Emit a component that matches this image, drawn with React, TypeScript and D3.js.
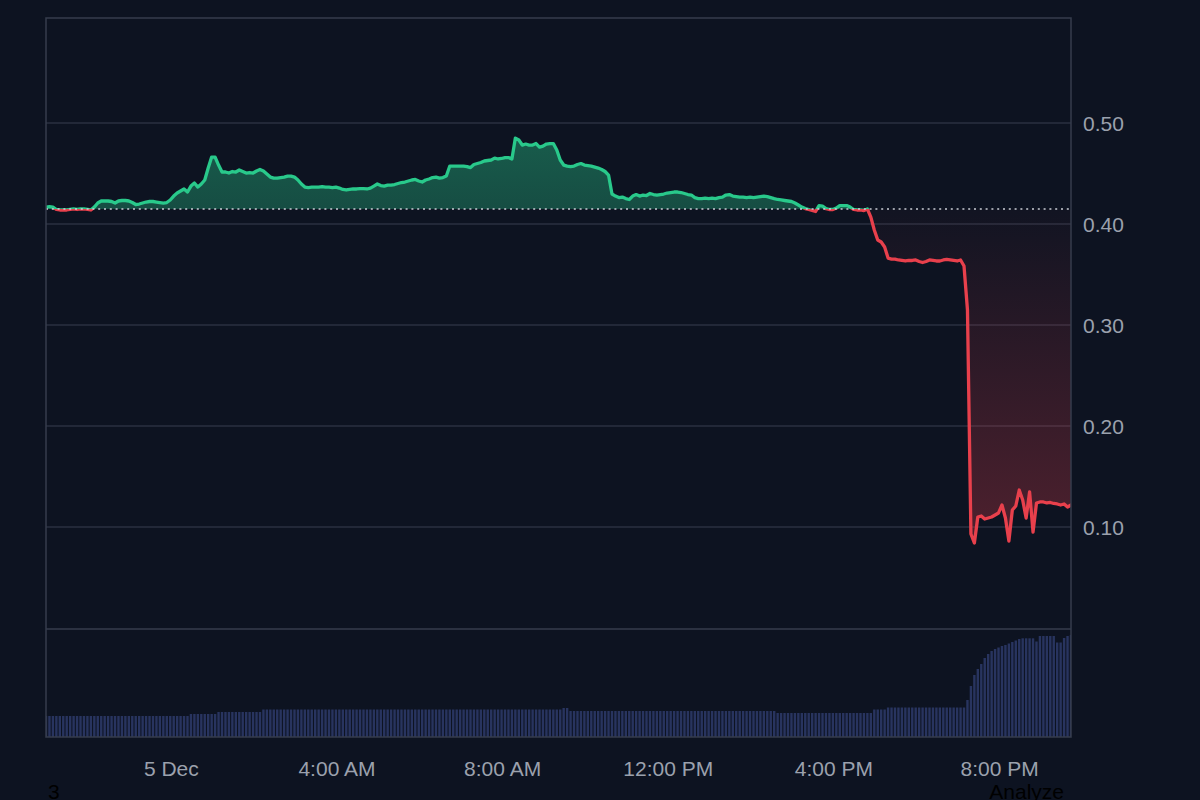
import React from "react";
import * as d3 from "d3";

// ---- data ----
const START_TIME = new Date(2024, 11, 4, 20, 57);
const STEP_MINUTES = 5;
const BASELINE_PRICE = 0.4149;

const PRICE_TICKS = [0.1, 0.2, 0.3, 0.4, 0.5];
const PRICE_TICK_LABELS = ["0.10", "0.20", "0.30", "0.40", "0.50"];

const TIME_TICKS = [
  new Date(2024, 11, 5, 0, 0),
  new Date(2024, 11, 5, 4, 0),
  new Date(2024, 11, 5, 8, 0),
  new Date(2024, 11, 5, 12, 0),
  new Date(2024, 11, 5, 16, 0),
  new Date(2024, 11, 5, 20, 0),
];
const TIME_TICK_LABELS = ["5 Dec", "4:00 AM", "8:00 AM", "12:00 PM", "4:00 PM", "8:00 PM"];

const PRICES = [
  0.4168, 0.4173, 0.4168, 0.4144, 0.4139, 0.4139, 0.4139, 0.4144, 0.4149, 0.4144,
  0.4149, 0.4149, 0.4144, 0.4139, 0.4168, 0.4208, 0.4228, 0.4228, 0.4228, 0.4223,
  0.4208, 0.4228, 0.4233, 0.4233, 0.4228, 0.4213, 0.4193, 0.4198, 0.4208, 0.4218,
  0.4223, 0.4223, 0.4218, 0.4213, 0.4208, 0.4213, 0.4238, 0.4277, 0.4307, 0.4327,
  0.4347, 0.4317, 0.4376, 0.4406, 0.4366, 0.4396, 0.4436, 0.4554, 0.4663, 0.4663,
  0.4584, 0.4515, 0.4515, 0.4505, 0.452, 0.4515, 0.4535, 0.452, 0.4505, 0.451,
  0.4505, 0.4525, 0.454, 0.4525, 0.4495, 0.4465, 0.4455, 0.4455, 0.446, 0.4465,
  0.4475, 0.4475, 0.4465, 0.4436, 0.4396, 0.4366, 0.4361, 0.4366, 0.4366, 0.4366,
  0.4371, 0.4366, 0.4366, 0.4361, 0.4366, 0.4356, 0.4342, 0.4337, 0.4342, 0.4347,
  0.4347, 0.4351, 0.4351, 0.4347, 0.4356, 0.4376, 0.4396, 0.4381, 0.4376, 0.4386,
  0.4386, 0.4391, 0.4401, 0.4411, 0.4416, 0.4426, 0.4436, 0.4441, 0.4426, 0.4416,
  0.4436, 0.4446, 0.446, 0.4465, 0.4455, 0.446, 0.4475, 0.4574, 0.4574, 0.4574,
  0.4574, 0.4574, 0.4569, 0.4559, 0.4589, 0.4599, 0.4609, 0.4624, 0.4629, 0.4634,
  0.4653, 0.4644, 0.4649, 0.4658, 0.4658, 0.4644, 0.4851, 0.4832, 0.4782, 0.4792,
  0.4782, 0.4782, 0.4797, 0.4762, 0.4772, 0.4792, 0.4797, 0.4797, 0.4733, 0.4634,
  0.4584, 0.4574, 0.4569, 0.4574, 0.4589, 0.4599, 0.4584, 0.4579, 0.4574, 0.4564,
  0.4554, 0.454, 0.452, 0.4485, 0.4297, 0.4277, 0.4262, 0.4267, 0.4252, 0.4243,
  0.4277, 0.4292, 0.4277, 0.4287, 0.4282, 0.4302, 0.4292, 0.4287, 0.4292, 0.4297,
  0.4307, 0.4312, 0.4317, 0.4317, 0.4312, 0.4302, 0.4292, 0.4287, 0.4262, 0.4252,
  0.4252, 0.4257, 0.4252, 0.4257, 0.4252, 0.4262, 0.4267, 0.4287, 0.4292, 0.4277,
  0.4272, 0.4267, 0.4267, 0.4262, 0.4267, 0.4262, 0.4267, 0.4272, 0.4277, 0.4272,
  0.4262, 0.4252, 0.4243, 0.4238, 0.4233, 0.4228, 0.4223, 0.4208, 0.4188, 0.4168,
  0.4153, 0.4144, 0.4134, 0.4124, 0.4183, 0.4178, 0.4153, 0.4144, 0.4144, 0.4158,
  0.4183, 0.4183, 0.4183, 0.4168, 0.4144, 0.4139, 0.4139, 0.4134, 0.4149, 0.4069,
  0.3941, 0.3842, 0.3822, 0.3772, 0.3663, 0.3653, 0.3653, 0.3644, 0.3639, 0.3634,
  0.3639, 0.3639, 0.3644, 0.3629, 0.3619, 0.3629, 0.3644, 0.3639, 0.3634, 0.3634,
  0.3644, 0.3649, 0.3644, 0.3639, 0.3634, 0.3644, 0.3584, 0.3149, 0.0931, 0.0842,
  0.1099, 0.1109, 0.1079, 0.1089, 0.1099, 0.1119, 0.1139, 0.1218, 0.1089, 0.0861,
  0.1168, 0.1208, 0.1366, 0.1267, 0.1089, 0.1347, 0.095, 0.1238, 0.1248, 0.1248,
  0.1238, 0.1243, 0.1233, 0.1228, 0.1218, 0.1228, 0.1198, 0.1218,
];

const VOLUMES = [
  21, 21, 21, 21, 21, 21, 21, 21, 21, 21, 21, 21, 21, 21, 21, 21, 21, 21, 21, 21,
  21, 21, 21, 21, 21, 21, 21, 21, 21, 21, 21, 21, 21, 21, 21, 21, 21, 21, 21, 21,
  21, 21, 23, 23, 23, 23, 23, 23, 23, 23, 25, 25, 25, 25, 25, 25, 25, 25, 25, 25,
  25, 25, 25, 27.5, 27.5, 27.5, 27.5, 27.5, 27.5, 27.5, 27.5, 27.5, 27.5, 27.5, 27.5, 27.5, 27.5, 27.5, 27.5, 27.5,
  27.5, 27.5, 27.5, 27.5, 27.5, 27.5, 27.5, 27.5, 27.5, 27.5, 27.5, 27.5, 27.5, 27.5, 27.5, 27.5, 27.5, 27.5, 27.5, 27.5,
  27.5, 27.5, 27.5, 27.5, 27.5, 27.5, 27.5, 27.5, 27.5, 27.5, 27.5, 27.5, 27.5, 27.5, 27.5, 27.5, 27.5, 27.5, 27.5, 27.5,
  27.5, 27.5, 27.5, 27.5, 27.5, 27.5, 27.5, 27.5, 27.5, 27.5, 27.5, 27.5, 27.5, 27.5, 27.5, 27.5, 27.5, 27.5, 27.5, 27.5,
  27.5, 27.5, 27.5, 27.5, 27.5, 27.5, 27.5, 27.5, 27.5, 27.5, 29, 29, 26, 26, 26, 26, 26, 26, 26, 26,
  26, 26, 26, 26, 26, 26, 26, 26, 26, 26, 26, 26, 26, 26, 26, 26, 26, 26, 26, 26,
  26, 26, 26, 26, 26, 26, 26, 26, 26, 26, 26, 26, 26, 26, 26, 26, 26, 26, 26, 26,
  26, 26, 26, 26, 26, 26, 26, 26, 26, 26, 26, 26, 24, 24, 24, 24, 24, 24, 24, 24,
  24, 24, 24, 24, 24, 24, 24, 24, 24, 24, 24, 24, 24, 24, 24, 24, 24, 24, 24, 24,
  27.5, 27.5, 27.5, 27.5, 29.5, 29.5, 29.5, 29.5, 29.5, 29.5, 29.5, 29.5, 29.5, 29.5, 29.5, 29.5, 29.5, 29.5, 29.5, 29.5,
  29.5, 29.5, 29.5, 29.5, 29.5, 29.5, 29.5, 37, 51, 62, 68, 73, 79, 83, 86, 88, 89.5, 91, 92, 93.5,
  95, 96.5, 98, 98.7, 98.7, 98.7, 98.7, 95.5, 101, 101, 101, 101, 101, 94.5, 94.5, 99, 101, 102,
];

// ---- layout / style ----
const W = 1200;
const H = 800;
const LEFT = 46;
const RIGHT = 1071;
const TOP = 18;
const PRICE_BOTTOM = 628;
const VOL_TOP = 629;
const VOL_BOTTOM = 737;

const BG = "#0d1321";
const GREEN = "#29c98b";
const RED = "#e8404c";
const GRID = "#2a3141";
const FRAME = "#363d4c";
const LABEL = "#9ba1ad";
const BAR = "#28345f";
const FONT = "'Liberation Sans', Arial, Helvetica, sans-serif";

export default function App() {
  const times = PRICES.map((_, i) => d3.timeMinute.offset(START_TIME, i * STEP_MINUTES));
  const data = PRICES.map((p, i) => ({ t: times[i], p, v: VOLUMES[i] }));

  const x = d3.scaleTime().domain([times[0], times[times.length - 1]]).range([LEFT, RIGHT]);
  const y = d3.scaleLinear().domain([0, 0.604]).range([PRICE_BOTTOM, TOP]);
  const vy = d3.scaleLinear().domain([0, 108]).range([VOL_BOTTOM, VOL_TOP]);

  const baseY = y(BASELINE_PRICE);

  const line = d3
    .line<{ t: Date; p: number }>()
    .x((d) => x(d.t))
    .y((d) => y(d.p))
    .curve(d3.curveLinear);
  const area = d3
    .area<{ t: Date; p: number }>()
    .x((d) => x(d.t))
    .y0(baseY)
    .y1((d) => y(d.p))
    .curve(d3.curveLinear);

  const linePath = line(data) || "";
  const areaPath = area(data) || "";

  const maxP = d3.max(PRICES) as number;
  const minP = d3.min(PRICES) as number;
  const barW = 2.4;

  return (
    <svg
      width={W}
      height={H}
      style={{ position: "absolute", left: 0, top: 0, display: "block" }}
      fontFamily={FONT}
    >
      <defs>
        <clipPath id="clipAbove">
          <rect x={LEFT} y={TOP} width={RIGHT - LEFT} height={baseY - TOP} />
        </clipPath>
        <clipPath id="clipBelow">
          <rect x={LEFT} y={baseY} width={RIGHT - LEFT} height={PRICE_BOTTOM - baseY} />
        </clipPath>
        <clipPath id="clipVol">
          <rect x={LEFT} y={VOL_TOP} width={RIGHT - LEFT} height={VOL_BOTTOM - VOL_TOP} />
        </clipPath>
        <linearGradient id="gradGreen" gradientUnits="userSpaceOnUse" x1={0} y1={y(maxP)} x2={0} y2={baseY}>
          <stop offset="0%" stopColor={GREEN} stopOpacity={0.4} />
          <stop offset="100%" stopColor={GREEN} stopOpacity={0.32} />
        </linearGradient>
        <linearGradient id="gradRed" gradientUnits="userSpaceOnUse" x1={0} y1={baseY} x2={0} y2={y(minP)}>
          <stop offset="0%" stopColor={RED} stopOpacity={0.02} />
          <stop offset="100%" stopColor={RED} stopOpacity={0.3} />
        </linearGradient>
      </defs>

      <rect x={0} y={0} width={W} height={H} fill={BG} />

      {/* grid */}
      {PRICE_TICKS.map((t) => (
        <line key={t} x1={LEFT} x2={RIGHT} y1={y(t)} y2={y(t)} stroke={GRID} strokeWidth={1.5} />
      ))}
      <line x1={LEFT} x2={RIGHT} y1={VOL_TOP} y2={VOL_TOP} stroke={FRAME} strokeWidth={1.5} />

      {/* volume bars */}
      <g clipPath="url(#clipVol)">
        {data.map((d, i) => (
          <rect
            key={i}
            x={x(d.t) - barW / 2}
            y={vy(d.v)}
            width={barW}
            height={VOL_BOTTOM - vy(d.v)}
            fill={BAR}
          />
        ))}
      </g>

      {/* areas */}
      <path d={areaPath} fill="url(#gradGreen)" clipPath="url(#clipAbove)" />
      <path d={areaPath} fill="url(#gradRed)" clipPath="url(#clipBelow)" />

      {/* lines */}
      <path
        d={linePath}
        fill="none"
        stroke={GREEN}
        strokeWidth={3.3}
        strokeLinejoin="round"
        strokeLinecap="round"
        clipPath="url(#clipAbove)"
      />
      <path
        d={linePath}
        fill="none"
        stroke={RED}
        strokeWidth={3.3}
        strokeLinejoin="round"
        strokeLinecap="round"
        clipPath="url(#clipBelow)"
      />

      {/* baseline */}
      <line
        x1={LEFT}
        x2={RIGHT}
        y1={baseY}
        y2={baseY}
        stroke="#c9cdd5"
        strokeWidth={1.6}
        strokeDasharray="2 3.8"
      />

      {/* frame */}
      <rect
        x={LEFT}
        y={TOP}
        width={RIGHT - LEFT}
        height={VOL_BOTTOM - TOP}
        fill="none"
        stroke={FRAME}
        strokeWidth={1.5}
      />

      {/* y labels */}
      {PRICE_TICKS.map((t, i) => (
        <text key={t} x={1083} y={y(t)} dy="0.36em" fontSize={21} fill={LABEL}>
          {PRICE_TICK_LABELS[i]}
        </text>
      ))}

      {/* x labels */}
      {TIME_TICKS.map((t, i) => (
        <text key={i} x={x(t) - 1} y={776} textAnchor="middle" fontSize={21} fill={LABEL}>
          {TIME_TICK_LABELS[i]}
        </text>
      ))}

      {/* footer texts (cut by the bottom edge, as in the reference) */}
      <text x={48} y={799} fontSize={21} fill="#000">
        3
      </text>
      <text x={1064} y={799} textAnchor="end" fontSize={21} fill="#000">
        Analyze
      </text>
    </svg>
  );
}
